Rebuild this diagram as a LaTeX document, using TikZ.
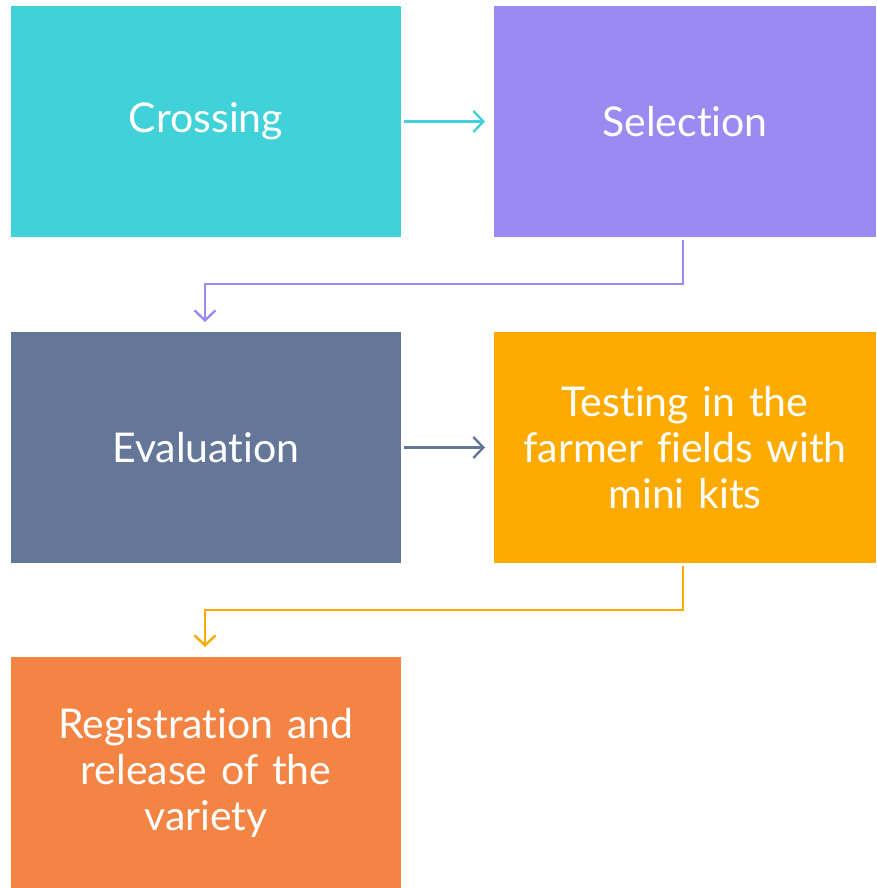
\documentclass[tikz,border=0pt]{standalone}
\usepackage{fontspec}
\setmainfont{Lato}[Ligatures=NoCommon]
\usetikzlibrary{arrows.meta}
\definecolor{cCross}{HTML}{41D1D9}
\definecolor{cSel}{HTML}{9B8AF2}
\definecolor{cEval}{HTML}{657799}
\definecolor{cTest}{HTML}{FDAB00}
\definecolor{cReg}{HTML}{F38443}
\begin{document}
\begin{tikzpicture}[x=1pt,y=-1pt,
  stepbox/.style={minimum width=390pt,minimum height=231pt,inner sep=0pt,
    text=white,font=\fontsize{41}{46}\selectfont,align=center,text width=376pt},
  conn/.style={line width=2.4pt,-{Straight Barb[length=10pt,width=21pt,line width=2.4pt]}}]
\useasboundingbox (0,0) rectangle (876,888);
\node[stepbox,fill=cCross] (cross) at (206,121.5) {Crossing};
\node[stepbox,fill=cSel,minimum width=382pt] (sel) at (685,121.5) {Selection};
\node[stepbox,fill=cEval] (eval) at (206,447.5) {Evaluation};
\node[stepbox,fill=cTest,minimum width=382pt] (test) at (685,447.5) {Testing in the\\farmer fields with\\mini kits};
\node[stepbox,fill=cReg] (reg) at (206,772.5) {Registration and\\release of the\\variety};
\coordinate (a1s) at (404,121.5);
\coordinate (a1e) at (485,121.5);
\draw[conn,cCross] (a1s) -- (a1e);
\coordinate (a3s) at (404,447.5);
\coordinate (a3e) at (485,447.5);
\draw[conn,cEval] (a3s) -- (a3e);
\coordinate (b1s) at (683,240);
\coordinate (b1e) at (205,322);
\draw[conn,cSel] (b1s) |- (444,284) -| (b1e);
\coordinate (b2s) at (683,566);
\coordinate (b2e) at (205,647);
\draw[conn,cTest] (b2s) |- (444,610) -| (b2e);
\end{tikzpicture}
\end{document}
